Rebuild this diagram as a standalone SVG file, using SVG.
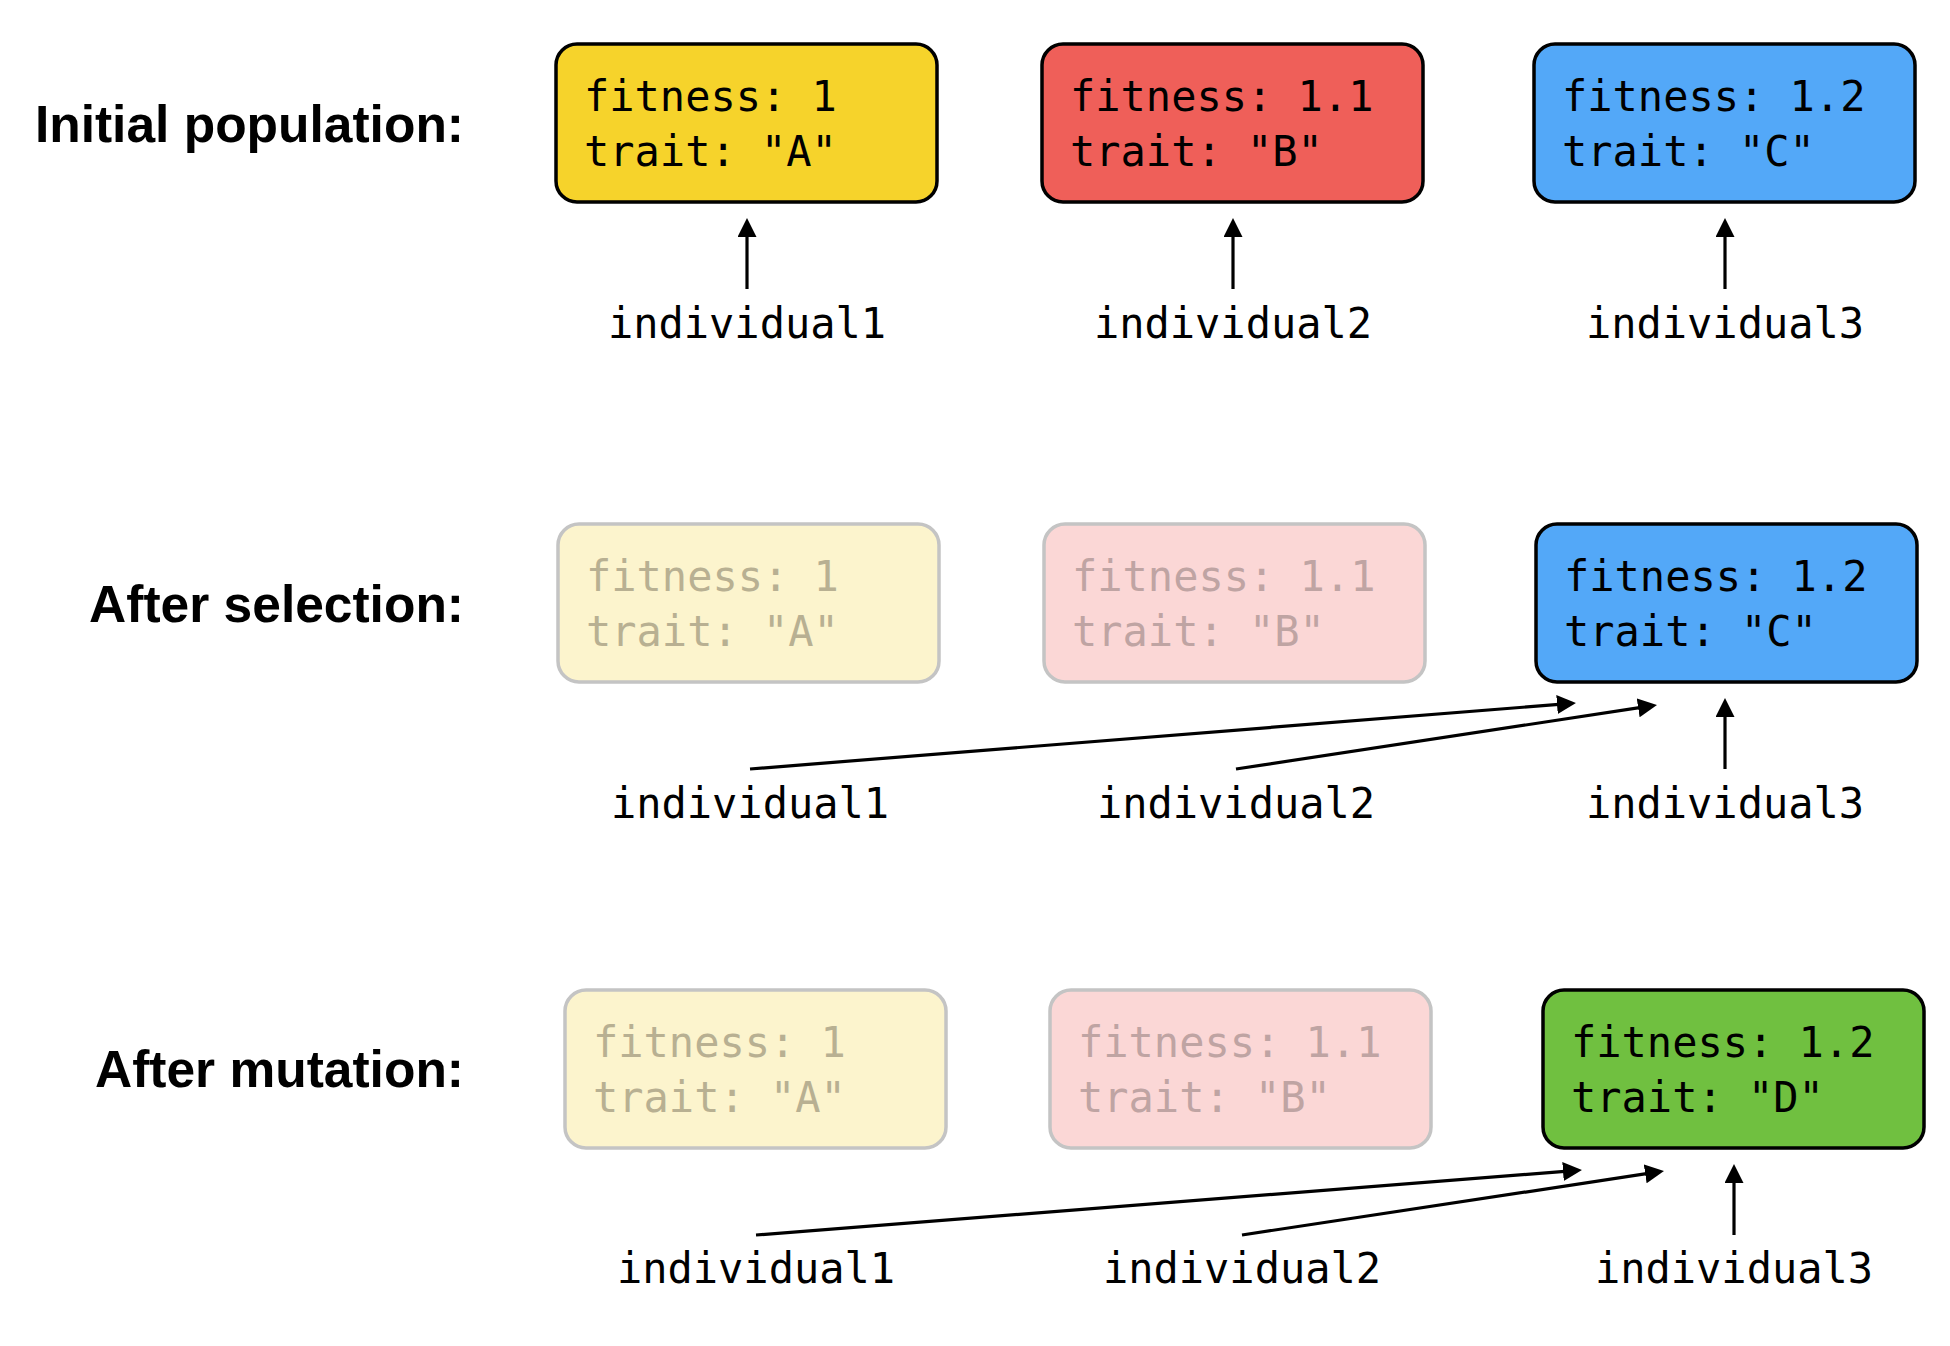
<svg xmlns="http://www.w3.org/2000/svg" width="1950" height="1346" viewBox="0 0 1950 1346">
<defs>
<marker id="ah" markerUnits="userSpaceOnUse" markerWidth="19" markerHeight="19" viewBox="0 0 19 19" refX="8" refY="9.5" orient="auto">
<path d="M0,0 L19,9.5 L0,19 z" fill="#000"/>
</marker>
</defs>
<style>
.title{font-family:"Liberation Sans",Arial,sans-serif;font-weight:bold;font-size:51.5px;fill:#000;text-anchor:end}
.mono{font-family:"DejaVu Sans Mono","Liberation Mono",monospace;font-size:42px}
.lbl{text-anchor:middle;fill:#000}
.box{stroke:#000;stroke-width:3.5}
.fade{stroke:#c4c4c4;stroke-width:3.5}
.conn{stroke:#000;stroke-width:3.2;fill:none;marker-end:url(#ah)}
.dark{fill:#000}
.fy{fill:#b8b092}
.fp{fill:#bfa4a3}
</style>
<rect width="1950" height="1346" fill="#fff"/>

<g id="title-initial"><text class="title" x="464" y="142">Initial population:</text></g>
<g id="title-selection"><text class="title" x="464" y="622">After selection:</text></g>
<g id="title-mutation"><text class="title" x="464" y="1087">After mutation:</text></g>

<g id="r1-box1"><rect class="box" x="556" y="44" width="381" height="158" rx="21" fill="#f6d32b"/>
<text class="mono dark" x="584" y="111">fitness: 1</text><text class="mono dark" x="584" y="166">trait: "A"</text></g>
<g id="r1-box2"><rect class="box" x="1042" y="44" width="381" height="158" rx="21" fill="#ef5f59"/>
<text class="mono dark" x="1070" y="111">fitness: 1.1</text><text class="mono dark" x="1070" y="166">trait: "B"</text></g>
<g id="r1-box3"><rect class="box" x="1534" y="44" width="381" height="158" rx="21" fill="#53a8f8"/>
<text class="mono dark" x="1562" y="111">fitness: 1.2</text><text class="mono dark" x="1562" y="166">trait: "C"</text></g>

<g id="r2-box1"><rect class="fade" x="558" y="524" width="381" height="158" rx="21" fill="#fcf4cd"/>
<text class="mono fy" x="586" y="591">fitness: 1</text><text class="mono fy" x="586" y="646">trait: "A"</text></g>
<g id="r2-box2"><rect class="fade" x="1044" y="524" width="381" height="158" rx="21" fill="#fbd7d6"/>
<text class="mono fp" x="1072" y="591">fitness: 1.1</text><text class="mono fp" x="1072" y="646">trait: "B"</text></g>
<g id="r2-box3"><rect class="box" x="1536" y="524" width="381" height="158" rx="21" fill="#53a8f8"/>
<text class="mono dark" x="1564" y="591">fitness: 1.2</text><text class="mono dark" x="1564" y="646">trait: "C"</text></g>

<g id="r3-box1"><rect class="fade" x="565" y="990" width="381" height="158" rx="21" fill="#fcf4cd"/>
<text class="mono fy" x="593" y="1057">fitness: 1</text><text class="mono fy" x="593" y="1112">trait: "A"</text></g>
<g id="r3-box2"><rect class="fade" x="1050" y="990" width="381" height="158" rx="21" fill="#fbd7d6"/>
<text class="mono fp" x="1078" y="1057">fitness: 1.1</text><text class="mono fp" x="1078" y="1112">trait: "B"</text></g>
<g id="r3-box3"><rect class="box" x="1543" y="990" width="381" height="158" rx="21" fill="#70c040"/>
<text class="mono dark" x="1571" y="1057">fitness: 1.2</text><text class="mono dark" x="1571" y="1112">trait: "D"</text></g>

<g id="r1-ind1"><text class="mono lbl" x="747" y="338">individual1</text></g>
<g id="r1-ind2"><text class="mono lbl" x="1233" y="338">individual2</text></g>
<g id="r1-ind3"><text class="mono lbl" x="1725" y="338">individual3</text></g>
<g id="r2-ind1"><text class="mono lbl" x="750" y="818">individual1</text></g>
<g id="r2-ind2"><text class="mono lbl" x="1236" y="818">individual2</text></g>
<g id="r2-ind3"><text class="mono lbl" x="1725" y="818">individual3</text></g>
<g id="r3-ind1"><text class="mono lbl" x="756" y="1283">individual1</text></g>
<g id="r3-ind2"><text class="mono lbl" x="1242" y="1283">individual2</text></g>
<g id="r3-ind3"><text class="mono lbl" x="1734" y="1283">individual3</text></g>

<g id="connectors">
<line class="conn" x1="747" y1="289" x2="747" y2="229"/>
<line class="conn" x1="1233" y1="289" x2="1233" y2="229"/>
<line class="conn" x1="1725" y1="289" x2="1725" y2="229"/>
<line class="conn" x1="750" y1="769" x2="1565" y2="703.9"/>
<line class="conn" x1="1236" y1="769" x2="1646.1" y2="706.7"/>
<line class="conn" x1="1725" y1="769" x2="1725" y2="709"/>
<line class="conn" x1="756" y1="1235" x2="1571" y2="1170.9"/>
<line class="conn" x1="1242" y1="1235" x2="1653.1" y2="1172.7"/>
<line class="conn" x1="1734" y1="1235" x2="1734" y2="1175"/>
</g>
</svg>
